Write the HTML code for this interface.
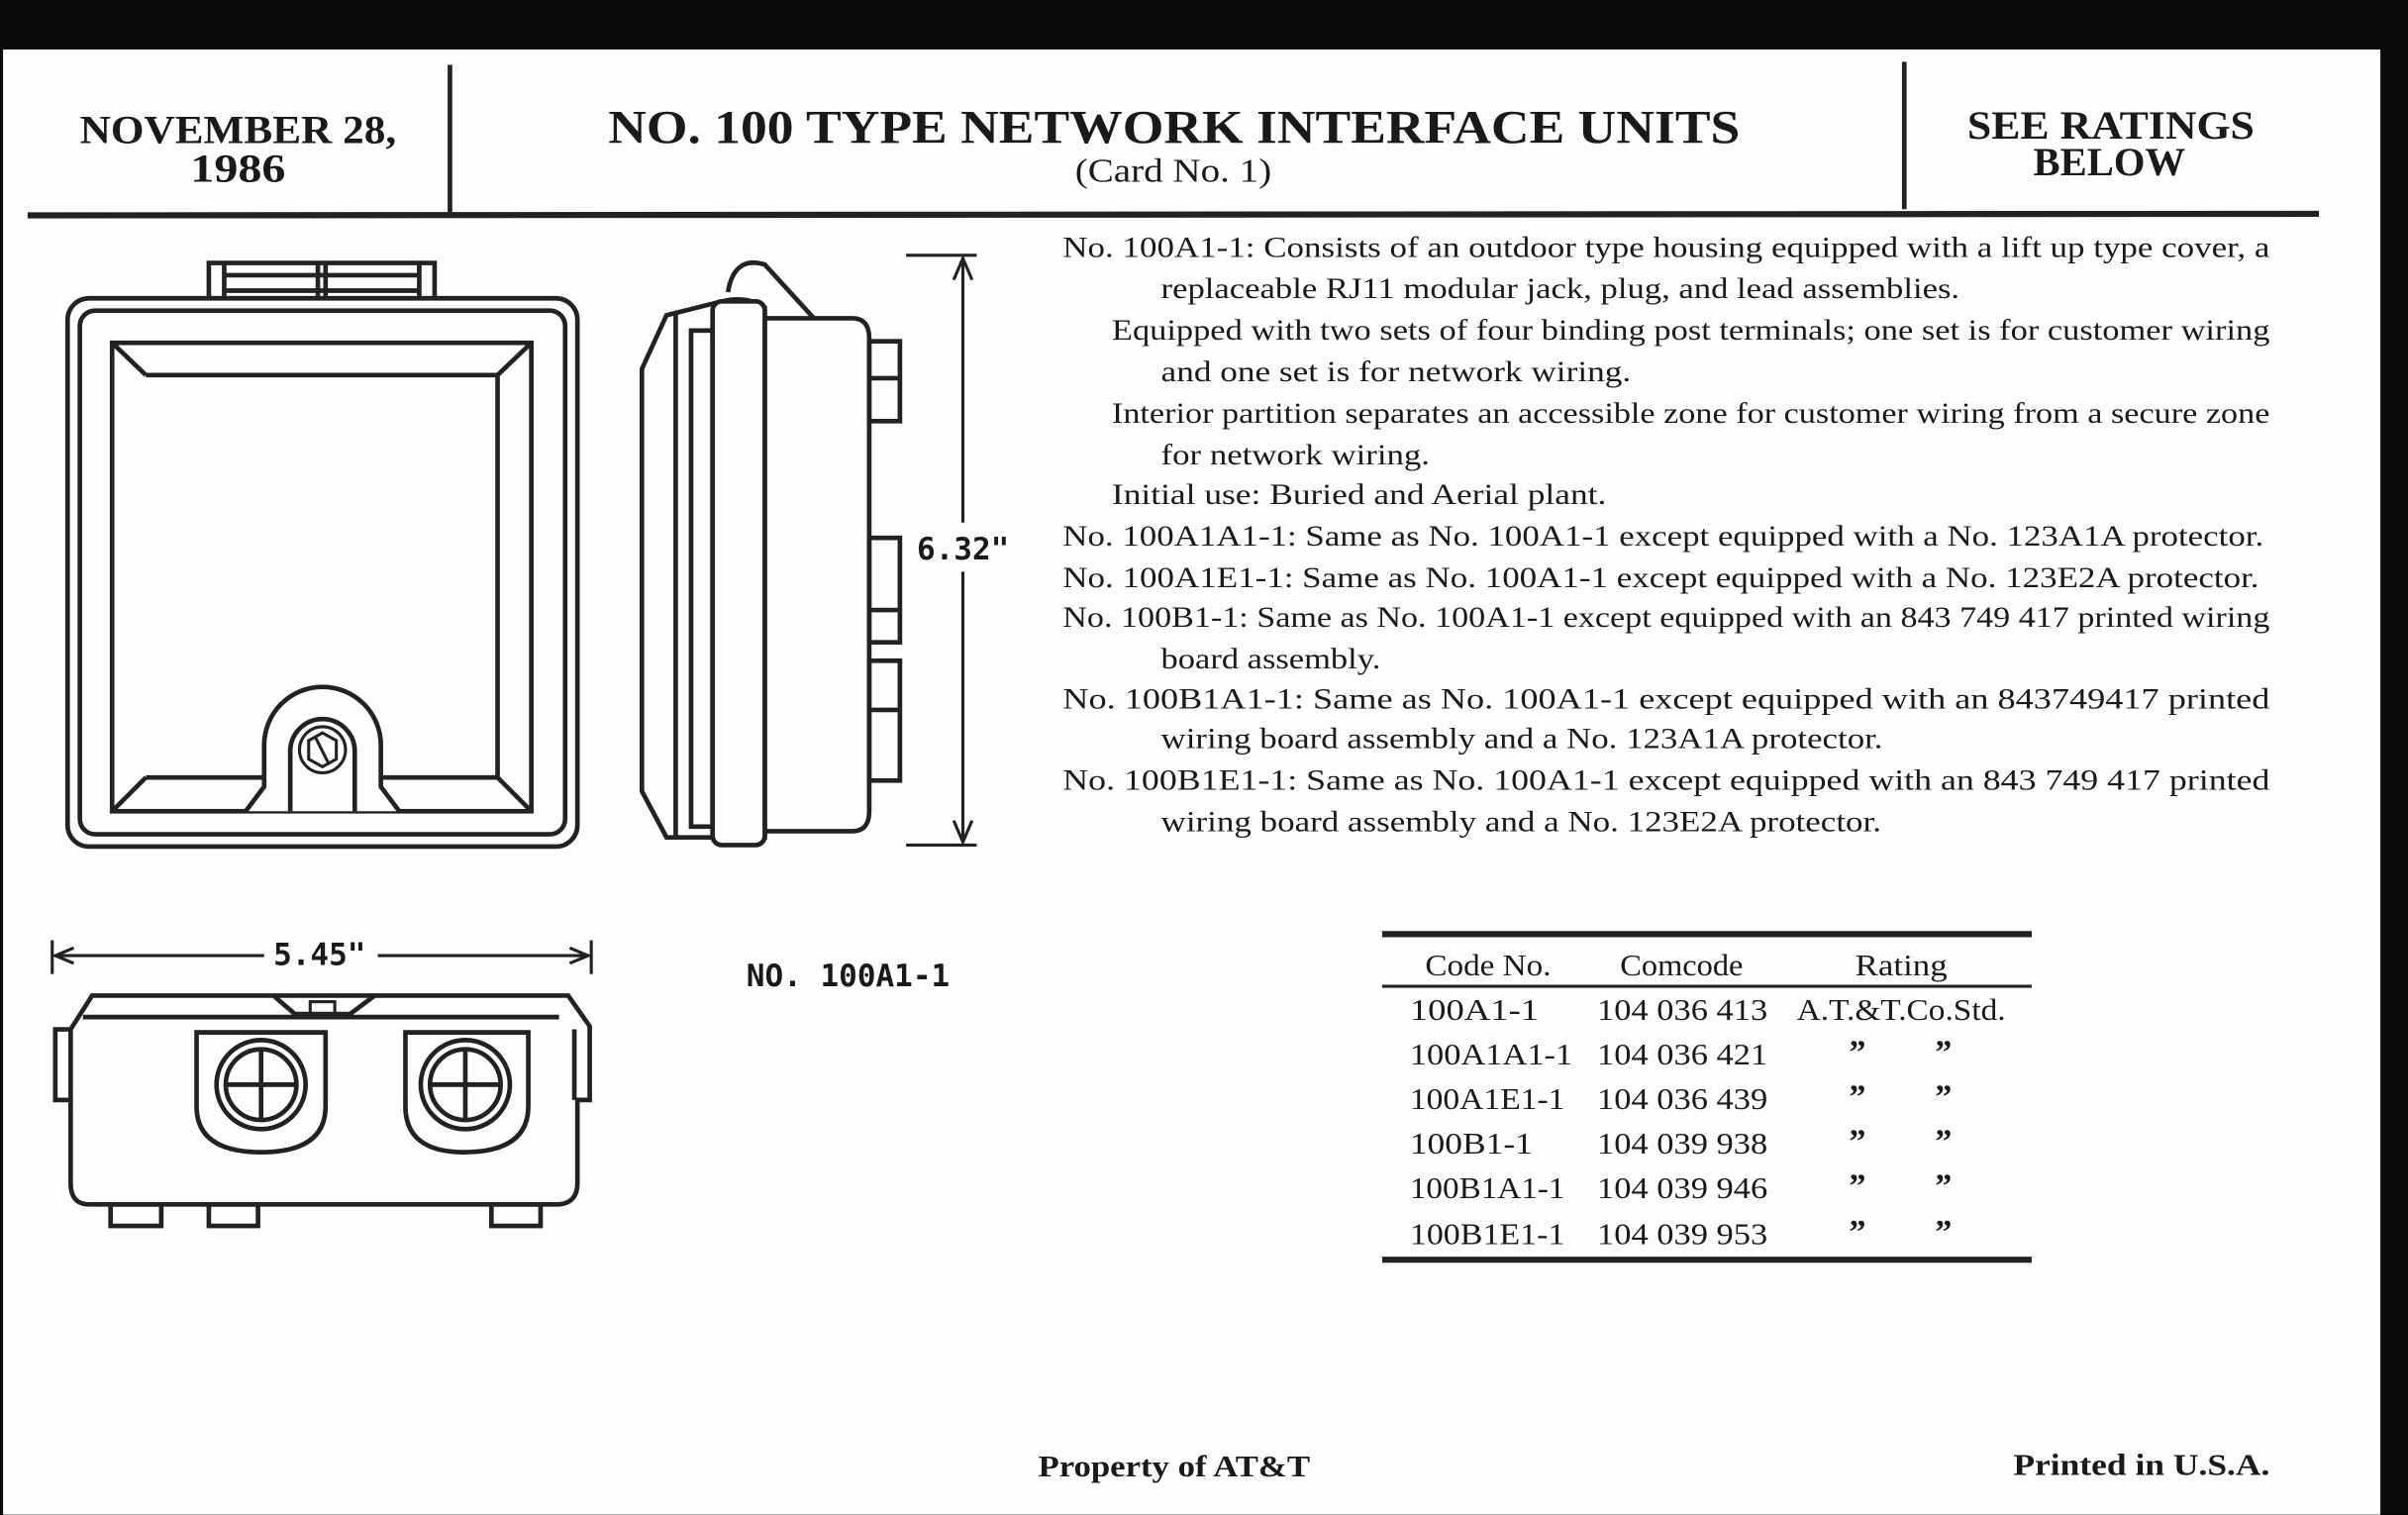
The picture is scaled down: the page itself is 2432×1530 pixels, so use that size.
<!DOCTYPE html>
<html><head><meta charset="utf-8"><style>
html,body{margin:0;padding:0;background:#000;}
svg{display:block;}
text{fill:#1a1a1a;}
.s{font-family:"Liberation Serif",serif;}
.m{font-family:"DejaVu Sans Mono","Liberation Mono",monospace;font-weight:bold;}
</style></head><body>
<svg width="2432" height="1530" viewBox="0 0 1568 986" xmlns="http://www.w3.org/2000/svg">
<rect x="0" y="0" width="1568" height="986" fill="#0a0a0a"/>
<rect x="2" y="32" width="1548" height="954" fill="#fdfdfd"/>
<g stroke="#222" fill="none">
<line x1="293" y1="42" x2="293" y2="138" stroke-width="3"/>
<line x1="1240" y1="40" x2="1240" y2="136" stroke-width="3"/>
<line x1="18" y1="140" x2="1510" y2="139" stroke-width="4"/>
</g>
<g class="s" font-weight="bold" lengthAdjust="spacingAndGlyphs">
<text x="52" y="93" font-size="26" textLength="206" lengthAdjust="spacingAndGlyphs">NOVEMBER 28,</text>
<text x="124" y="118" font-size="26" textLength="62" lengthAdjust="spacingAndGlyphs">1986</text>
<text x="396" y="93" font-size="31" textLength="737" lengthAdjust="spacingAndGlyphs">NO. 100 TYPE NETWORK INTERFACE UNITS</text>
<text x="1281" y="90" font-size="26" textLength="187" lengthAdjust="spacingAndGlyphs">SEE RATINGS</text>
<text x="1324" y="114" font-size="26" textLength="99" lengthAdjust="spacingAndGlyphs">BELOW</text>
</g>
<text class="s" x="700" y="118" font-size="22" textLength="128" lengthAdjust="spacingAndGlyphs">(Card No. 1)</text>

<!-- front view -->
<g stroke="#222" stroke-width="3" fill="none">
<rect x="136" y="171" width="147" height="25"/>
<line x1="146" y1="171" x2="146" y2="196"/><line x1="273" y1="171" x2="273" y2="196"/>
<line x1="146" y1="179" x2="273" y2="179"/><line x1="146" y1="189" x2="273" y2="189"/>
<line x1="207" y1="171" x2="207" y2="196"/><line x1="212" y1="171" x2="212" y2="196"/>
<rect x="44" y="194" width="332" height="357" rx="14" fill="#fdfdfd"/>
<rect x="52" y="202" width="316" height="341" rx="10"/>
<rect x="73" y="223" width="273" height="305"/>
<path d="M95 244 H324 V506 H248 M172 506 H95 Z"/>
<line x1="73" y1="223" x2="95" y2="244"/><line x1="346" y1="223" x2="324" y2="244"/>
<line x1="73" y1="528" x2="95" y2="506"/><line x1="346" y1="528" x2="324" y2="506"/>
<path d="M160 528 L172 512 V485 A38 38 0 0 1 248 485 V512 L260 528" fill="#fdfdfd"/>
<path d="M189 528 V489 A21 21 0 0 1 231 489 V528"/>
<circle cx="210" cy="488" r="15" stroke-width="2"/>
<polygon points="210,477 219,482 219,494 210,499 201,494 201,482" stroke-width="2"/>
<line x1="205" y1="479" x2="214" y2="497" stroke-width="2"/>
</g>

<!-- side view -->
<g stroke="#222" stroke-width="3" fill="none">
<path d="M474 190 Q478 166 498 172 L530 207"/>
<path d="M434 205 L418 240 V515 L434 545 H498 V200 Q486 192 470 196 L434 205 Z" fill="#fdfdfd"/>
<line x1="440" y1="203" x2="440" y2="545"/>
<rect x="450" y="215" width="14" height="323"/>
<rect x="464" y="196" width="34" height="354" rx="6" fill="#fdfdfd"/>
<path d="M498 207 H555 Q566 207 566 220 V528 Q566 541 555 541 H498"/>
<rect x="566" y="222" width="20" height="52"/><line x1="566" y1="246" x2="586" y2="246"/>
<rect x="566" y="350" width="20" height="68"/><line x1="566" y1="397" x2="586" y2="397"/>
<rect x="566" y="430" width="20" height="78"/><line x1="566" y1="462" x2="586" y2="462"/>
</g>
<g stroke="#222" stroke-width="2" fill="none">
<line x1="590" y1="166" x2="636" y2="166"/><line x1="590" y1="550" x2="636" y2="550"/>
<line x1="627" y1="168" x2="627" y2="340"/><line x1="627" y1="372" x2="627" y2="548"/>
<path d="M621 182 L627 168 L633 182 M621 534 L627 548 L633 534"/>
</g>
<text class="m" x="597" y="364" font-size="20">6.32"</text>

<!-- bottom view -->
<g stroke="#222" stroke-width="2" fill="none">
<line x1="34" y1="612" x2="34" y2="634"/><line x1="385" y1="612" x2="385" y2="634"/>
<line x1="36" y1="622" x2="172" y2="622"/><line x1="246" y1="622" x2="383" y2="622"/>
<path d="M48 617 L36 622 L48 627 M371 617 L383 622 L371 627"/>
</g>
<text class="m" x="178" y="628" font-size="20">5.45"</text>
<g stroke="#222" stroke-width="3" fill="none">
<path d="M46 670 L60 648 H370 L384 668 V716 H376 V770 Q376 784 362 784 H58 Q46 784 46 770 V716 H36 V670 Z" fill="#fdfdfd"/>
<line x1="46" y1="670" x2="46" y2="716"/><line x1="374" y1="670" x2="374" y2="716"/>
<line x1="54" y1="662" x2="364" y2="662"/>
<path d="M178 648 L192 660 H228 L244 648"/>
<rect x="202" y="652" width="16" height="8" stroke-width="2"/>
<path d="M128 672 V720 Q128 750 170 750 Q212 750 212 720 V672 Z"/>
<circle cx="170" cy="706" r="29"/><circle cx="170" cy="706" r="23"/>
<line x1="147" y1="706" x2="193" y2="706"/><line x1="170" y1="683" x2="170" y2="729"/>
<path d="M264 672 V720 Q264 750 302 750 Q344 750 344 720 V672 Z"/>
<circle cx="303" cy="706" r="29"/><circle cx="303" cy="706" r="23"/>
<line x1="280" y1="706" x2="326" y2="706"/><line x1="303" y1="683" x2="303" y2="729"/>
<rect x="72" y="784" width="33" height="14"/><rect x="136" y="784" width="32" height="14"/><rect x="320" y="784" width="32" height="14"/>
</g>
<text class="m" x="486" y="642" font-size="20">NO. 100A1-1</text>

<!-- body text -->
<g class="s" font-size="19">
<text x="692" y="167" textLength="786" lengthAdjust="spacingAndGlyphs">No. 100A1-1: Consists of an outdoor type housing equipped with a lift up type cover, a</text>
<text x="756" y="194" textLength="520" lengthAdjust="spacingAndGlyphs">replaceable RJ11 modular jack, plug, and lead assemblies.</text>
<text x="724" y="221" textLength="754" lengthAdjust="spacingAndGlyphs">Equipped with two sets of four binding post terminals; one set is for customer wiring</text>
<text x="756" y="248" textLength="306" lengthAdjust="spacingAndGlyphs">and one set is for network wiring.</text>
<text x="724" y="275" textLength="754" lengthAdjust="spacingAndGlyphs">Interior partition separates an accessible zone for customer wiring from a secure zone</text>
<text x="756" y="302" textLength="175" lengthAdjust="spacingAndGlyphs">for network wiring.</text>
<text x="724" y="328" textLength="322" lengthAdjust="spacingAndGlyphs">Initial use:  Buried and Aerial plant.</text>
<text x="692" y="355" textLength="782" lengthAdjust="spacingAndGlyphs">No. 100A1A1-1:  Same as No. 100A1-1 except equipped with a No. 123A1A protector.</text>
<text x="692" y="382" textLength="779" lengthAdjust="spacingAndGlyphs">No. 100A1E1-1:  Same as No. 100A1-1 except equipped with a No. 123E2A protector.</text>
<text x="692" y="408" textLength="786" lengthAdjust="spacingAndGlyphs">No. 100B1-1:  Same as No. 100A1-1 except equipped with an 843 749 417 printed wiring</text>
<text x="756" y="435" textLength="143" lengthAdjust="spacingAndGlyphs">board assembly.</text>
<text x="692" y="461" textLength="786" lengthAdjust="spacingAndGlyphs">No. 100B1A1-1:  Same as No. 100A1-1 except equipped with an 843749417 printed</text>
<text x="756" y="487" textLength="470" lengthAdjust="spacingAndGlyphs">wiring board assembly and a No. 123A1A protector.</text>
<text x="692" y="514" textLength="786" lengthAdjust="spacingAndGlyphs">No. 100B1E1-1:  Same as No. 100A1-1 except equipped with an 843 749 417 printed</text>
<text x="756" y="541" textLength="469" lengthAdjust="spacingAndGlyphs">wiring board assembly and a No. 123E2A protector.</text>
</g>

<!-- table -->
<g stroke="#222" fill="none">
<line x1="900" y1="608" x2="1323" y2="608" stroke-width="4"/>
<line x1="900" y1="642" x2="1323" y2="642" stroke-width="2"/>
<line x1="900" y1="820" x2="1323" y2="820" stroke-width="4"/>
</g>
<g class="s" font-size="20">
<text x="928" y="635" textLength="82" lengthAdjust="spacingAndGlyphs">Code No.</text>
<text x="1055" y="635" textLength="80" lengthAdjust="spacingAndGlyphs">Comcode</text>
<text x="1208" y="635" textLength="60" lengthAdjust="spacingAndGlyphs">Rating</text>
<text x="918" y="664" textLength="84" lengthAdjust="spacingAndGlyphs">100A1-1</text><text x="1040" y="664" textLength="111" lengthAdjust="spacingAndGlyphs">104 036 413</text><text x="1170" y="664" textLength="136" lengthAdjust="spacingAndGlyphs">A.T.&amp;T.Co.Std.</text>
<text x="918" y="693" textLength="106" lengthAdjust="spacingAndGlyphs">100A1A1-1</text><text x="1040" y="693" textLength="111" lengthAdjust="spacingAndGlyphs">104 036 421</text>
<text x="918" y="722" textLength="101" lengthAdjust="spacingAndGlyphs">100A1E1-1</text><text x="1040" y="722" textLength="111" lengthAdjust="spacingAndGlyphs">104 036 439</text>
<text x="918" y="751" textLength="80" lengthAdjust="spacingAndGlyphs">100B1-1</text><text x="1040" y="751" textLength="111" lengthAdjust="spacingAndGlyphs">104 039 938</text>
<text x="918" y="780" textLength="101" lengthAdjust="spacingAndGlyphs">100B1A1-1</text><text x="1040" y="780" textLength="111" lengthAdjust="spacingAndGlyphs">104 039 946</text>
<text x="918" y="810" textLength="101" lengthAdjust="spacingAndGlyphs">100B1E1-1</text><text x="1040" y="810" textLength="111" lengthAdjust="spacingAndGlyphs">104 039 953</text>
</g>
<g class="s" font-size="22" font-weight="bold">
<text x="1204" y="692">”</text><text x="1260" y="692">”</text>
<text x="1204" y="721">”</text><text x="1260" y="721">”</text>
<text x="1204" y="750">”</text><text x="1260" y="750">”</text>
<text x="1204" y="779">”</text><text x="1260" y="779">”</text>
<text x="1204" y="809">”</text><text x="1260" y="809">”</text>
</g>

<g class="s" font-weight="bold" font-size="20">
<text x="676" y="961" textLength="177" lengthAdjust="spacingAndGlyphs">Property of AT&amp;T</text>
<text x="1311" y="960" textLength="167" lengthAdjust="spacingAndGlyphs">Printed in U.S.A.</text>
</g>
</svg>
</body></html>
